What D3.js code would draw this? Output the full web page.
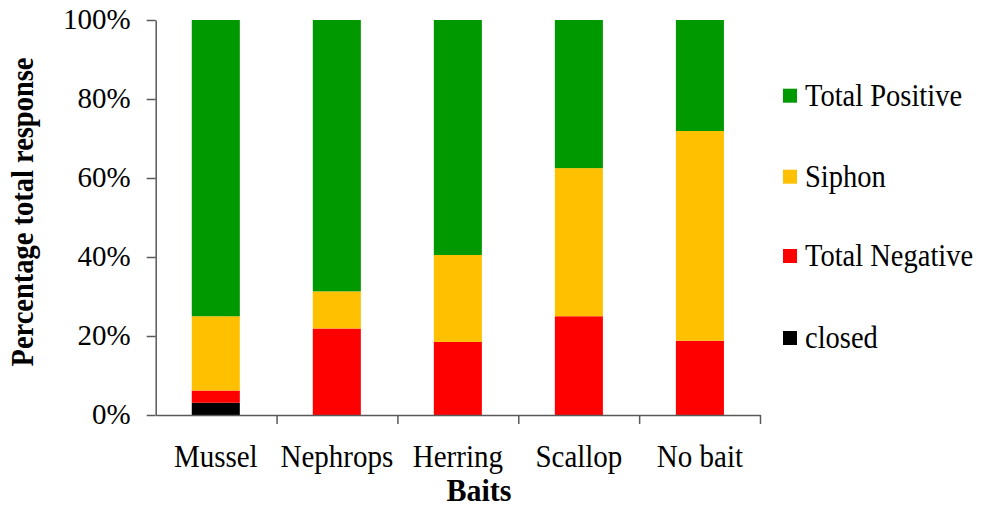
<!DOCTYPE html>
<html>
<head>
<meta charset="utf-8">
<script src="https://cdn.jsdelivr.net/npm/d3@7"></script>
<style>
    body { margin: 0; background: #fff; }
    svg { display: block; }
</style>
</head>
<body>
<svg id="chart" width="985" height="508"></svg>
<script>
const categories = ["Mussel", "Nephrops", "Herring", "Scallop", "No bait"]
const seriesNames = ["closed", "Total Negative", "Siphon", "Total Positive"]
const closed = [0.031, 0, 0, 0, 0]
const totalNegative = [0.031, 0.219, 0.185, 0.25, 0.188]
const siphon = [0.188, 0.094, 0.22, 0.375, 0.531]
const totalPositive = [0.75, 0.687, 0.595, 0.375, 0.281]
const yTicks = [0, 0.2, 0.4, 0.6, 0.8, 1]
const colors = ["#000000", "#ff0000", "#ffc000", "#009900"]

const FONT = "Liberation Serif"
const plot = { left: 155.7, right: 760, top: 20, bottom: 415 }
const stretch = 1.08

const svg = d3.select("#chart")

const rows = categories.map((c, i) => ({
    c,
    "closed": closed[i],
    "Total Negative": totalNegative[i],
    "Siphon": siphon[i],
    "Total Positive": totalPositive[i],
}))
const stacked = d3.stack().keys(seriesNames)(rows)

const x = d3.scaleBand(categories, [plot.left, plot.right]).paddingInner(0.603).paddingOuter(0.298)
const y = d3.scaleLinear([0, 1], [plot.bottom, plot.top])
const color = d3.scaleOrdinal(seriesNames, colors)

// bars
svg.append("g")
    .selectAll("g")
    .data(stacked)
    .join("g")
    .attr("fill", d => color(d.key))
    .selectAll("rect")
    .data(d => d.filter(p => p[1] - p[0] > 0))
    .join("rect")
    .attr("x", d => x(d.data.c))
    .attr("y", d => y(d[1]))
    .attr("width", x.bandwidth())
    .attr("height", d => y(d[0]) - y(d[1]))

// y axis
const yAxisGroup = svg.append("g")
    .attr("transform", `translate(${plot.left},0)`)
    .call(d3.axisLeft(y).tickValues(yTicks).tickFormat(d3.format(".0%")).tickSize(9).tickSizeOuter(0).tickPadding(16))

// x axis: ticks sit between categories
const xb = d3.scaleLinear([0, categories.length], [plot.left, plot.right])
const xAxisGroup = svg.append("g")
    .attr("transform", `translate(0,${plot.bottom})`)
    .call(d3.axisBottom(xb).tickValues(d3.range(1, categories.length + 1)).tickFormat("").tickSize(9).tickSizeOuter(0))

for (const g of [yAxisGroup, xAxisGroup]) {
    g.attr("font-family", FONT)
    g.selectAll("path, line").attr("stroke", "#595959").attr("stroke-width", 1.5)
}
yAxisGroup.selectAll("text")
    .attr("fill", "#000")
    .attr("font-size", 29)
    .attr("dy", "0.3em")

// category labels
svg.append("g")
    .attr("font-family", FONT)
    .attr("font-size", 29)
    .selectAll("text")
    .data(categories)
    .join("text")
    .attr("transform", d => `translate(${x(d) + x.bandwidth() / 2},466.7) scale(1,${stretch})`)
    .attr("text-anchor", "middle")
    .text(d => d)

// axis titles
svg.append("text")
    .attr("transform", `translate(479,500.5) scale(1,${stretch})`)
    .attr("text-anchor", "middle")
    .attr("font-family", FONT)
    .attr("font-size", 30)
    .attr("font-weight", "bold")
    .text("Baits")

svg.append("text")
    .attr("transform", `translate(33,212) rotate(-90) scale(1,1.13)`)
    .attr("text-anchor", "middle")
    .attr("font-family", FONT)
    .attr("font-size", 28.5)
    .attr("font-weight", "bold")
    .text("Percentage total response")

// legend, top to bottom
const legendOrder = seriesNames.slice().reverse()
const legendY = [95.7, 176.7, 256, 338]
const legend = svg.append("g")
    .attr("font-family", FONT)
    .attr("font-size", 28.5)
    .selectAll("g")
    .data(legendOrder)
    .join("g")
    .attr("transform", (d, i) => `translate(783,${legendY[i]})`)

legend.append("rect")
    .attr("x", 0)
    .attr("y", -7)
    .attr("width", 14)
    .attr("height", 14)
    .attr("fill", d => color(d))

legend.append("text")
    .attr("transform", `translate(22,10) scale(1,${stretch})`)
    .text(d => d)
</script>
</body>
</html>
